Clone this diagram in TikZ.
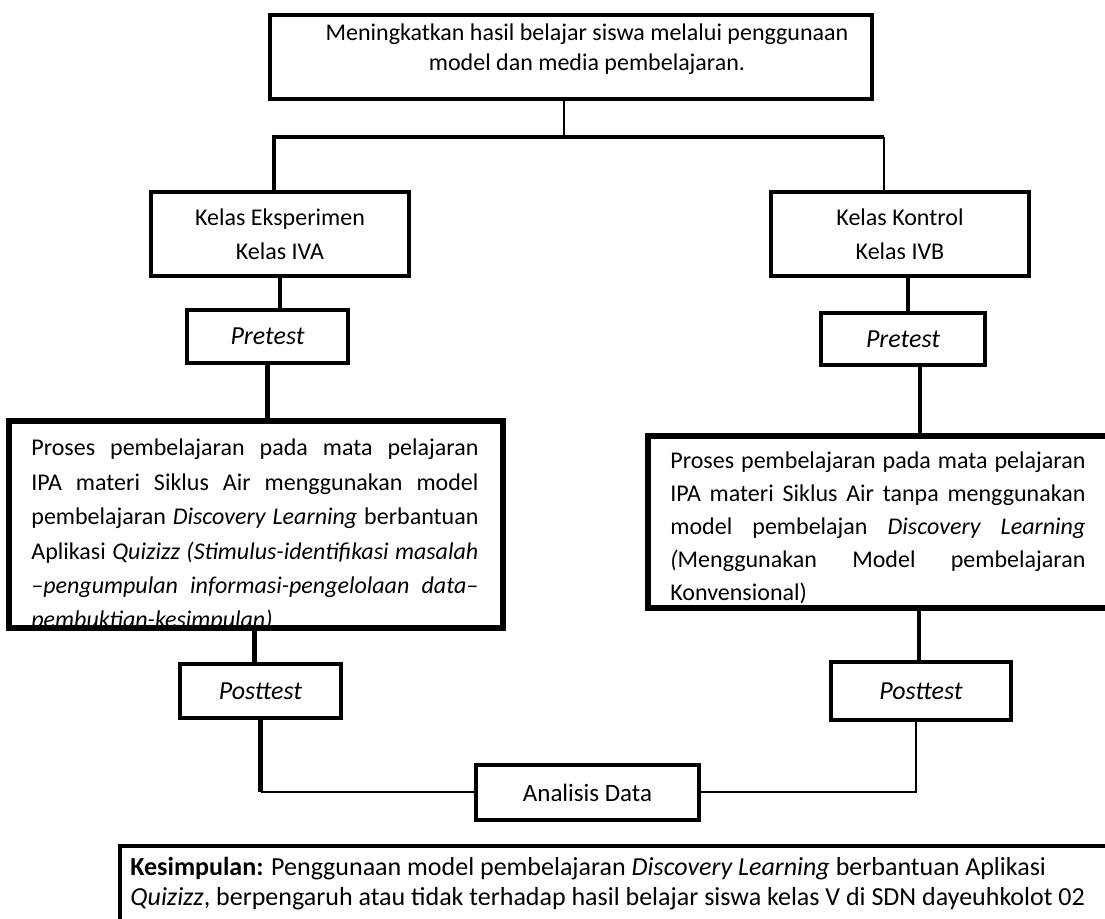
\documentclass[tikz,border=0pt]{standalone}
\usepackage{fontspec}
\setmainfont{Carlito}
\usetikzlibrary{calc}

\tikzset{
  kotak/.style={draw, line width=2pt, inner sep=0pt, align=center},
  garis/.style={line width=1pt},
  garissedang/.style={line width=1.6pt},
  garistebal/.style={line width=2.4pt},
  isi/.style={anchor=base west, inner sep=0pt},
  uji/.style={kotak, font=\fontsize{13}{15}\selectfont\itshape},
}
\newcommand{\baris}[1]{\hbox to\hsize{#1}}

\begin{document}
\begin{tikzpicture}[x=0.5pt, y=-0.5pt]
\clip (0,0) rectangle (1105,919);

% atas
\node[kotak, minimum width=301pt, minimum height=42pt, font=\fontsize{12}{15}\selectfont] (tujuan) at (571,57)
  {\hspace*{16pt}Meningkatkan hasil belajar siswa melalui penggunaan\\ \hspace*{16pt}model dan media pembelajaran.\\[-5pt]};
\coordinate (cabang) at (564,137);

\node[kotak, minimum width=129pt, minimum height=42pt, font=\fontsize{12}{17}\selectfont] (eksp) at (280,234) {Kelas Eksperimen\\Kelas IVA};
\node[kotak, minimum width=129pt, minimum height=42pt, font=\fontsize{12}{17}\selectfont] (kontrol) at (900,234) {Kelas Kontrol\\Kelas IVB};

\node[uji, minimum width=80.5pt, minimum height=26.5pt] (preA) at (267.5,336.5) {Pretest};
\node[uji, minimum width=82pt, minimum height=26pt] (preB) at (903,339) {Pretest};

% proses
\node[kotak, minimum width=246pt, minimum height=102.5pt] (prosesA) at (256,524.5) {};
\node[kotak, minimum width=238pt, minimum height=85pt] (prosesB) at (887,522) {};
\begin{scope}
  \clip (prosesA.south west) rectangle (prosesA.north east);
  \node[isi, font=\fontsize{12}{17.2}\selectfont] (teksA) at ([xshift=11.5pt,yshift=-18pt]prosesA.north west)
  {\vtop{\hsize=223.5pt
    \baris{Proses pembelajaran pada mata pelajaran}
    \baris{IPA materi Siklus Air menggunakan model}
    \baris{pembelajaran \textit{Discovery Learning} berbantuan}
    \baris{Aplikasi \textit{Quizizz (Stimulus-identifikasi masalah}}
    \baris{\textit{–pengumpulan informasi-pengelolaan data–}}
    \hbox{\textit{pembuktian-kesimpulan)}}}};
\end{scope}
\begin{scope}
  \clip (prosesB.south west) rectangle (prosesB.north east);
  \node[isi, font=\fontsize{12}{16.5}\selectfont] (teksB) at ([xshift=11.5pt,yshift=-17pt]prosesB.north west)
  {\vtop{\hsize=207.5pt
    \baris{Proses pembelajaran pada mata pelajaran}
    \baris{IPA materi Siklus Air tanpa menggunakan}
    \baris{model pembelajan \textit{Discovery Learning}}
    \baris{\textit{(}Menggunakan Model pembelajaran}
    \hbox{Konvensional)}}};
\end{scope}
\draw[line width=2pt] (prosesA.south west) rectangle (prosesA.north east);
\draw[line width=2pt] (prosesB.south west) rectangle (prosesB.north east);

\node[uji, minimum width=80.5pt, minimum height=27pt] (postA) at (260.5,691) {Posttest};
\node[uji, minimum width=90pt, minimum height=29pt] (postB) at (921,691) {Posttest};

\node[kotak, minimum width=111.5pt, minimum height=27.5pt, font=\fontsize{12.5}{15}\selectfont] (analisis) at (587.5,792.5) {Analisis Data};

% kesimpulan
\node[kotak, anchor=north west, minimum width=520pt, minimum height=50pt] (kes) at (118,844) {};
\node[isi, font=\fontsize{13}{15}\selectfont] (teksKes) at ([xshift=6pt,yshift=-16pt]kes.north west)
  {\vtop{\hbox{\textbf{Kesimpulan:} Penggunaan model pembelajaran \textit{Discovery Learning} berbantuan Aplikasi}
    \hbox{\textit{Quizizz}, berpengaruh atau tidak terhadap hasil belajar siswa kelas V di SDN dayeuhkolot 02}}};

% garis
\coordinate (belokB) at (cabang -| {$(kontrol.north)+(-8pt,0)$});
\draw[garis] (tujuan.south -| cabang) -- (cabang);
\draw[garistebal] (cabang) -| ([xshift=-3pt]eksp.north);
\draw[garissedang] (cabang) -- (belokB);
\draw[garis] (belokB) -- (belokB |- kontrol.north);
\draw[garistebal] (eksp.south) -- (eksp.south |- preA.north);
\draw[garistebal] (preA.south) -- (preA.south |- prosesA.north);
\draw[garistebal] ([xshift=-3pt]postA.north) -- ([xshift=-3pt]postA.north |- prosesA.south);
\draw[garistebal] (postA.south) -- (postA.south |- analisis.west);
\draw[garis] (postA.south |- analisis.west) -- (analisis.west);
\draw[garis] (analisis.east) -| ([xshift=-2.5pt]postB.south);
\draw[garistebal] ([xshift=4pt]kontrol.south) -- ([xshift=4pt]kontrol.south |- preB.north);
\draw[garistebal] ([xshift=8.5pt]preB.south) -- ([xshift=8.5pt]preB.south |- prosesB.north);
\draw[garistebal] ([xshift=-1pt]postB.north) -- ([xshift=-1pt]postB.north |- prosesB.south);
\end{tikzpicture}
\end{document}
